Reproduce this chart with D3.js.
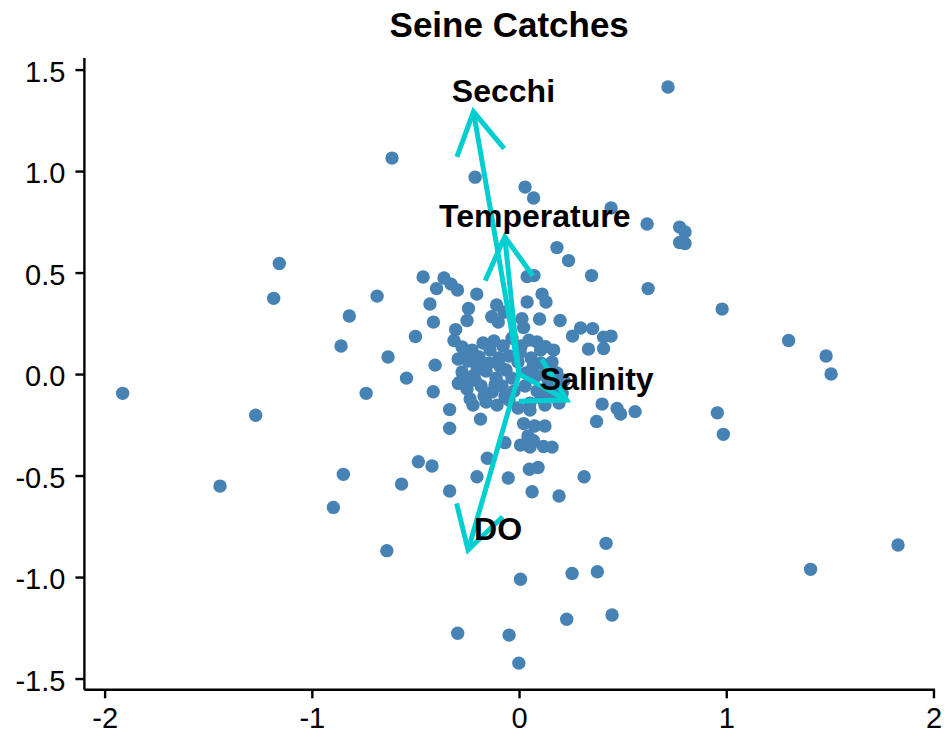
<!DOCTYPE html>
<html>
<head>
<meta charset="utf-8">
<script src="https://cdn.jsdelivr.net/npm/d3@7"></script>
<style>
  html, body { margin: 0; padding: 0; background: #fff; }
  svg { display: block; font-family: "Liberation Sans", Arial, sans-serif; }
</style>
</head>
<body>
<svg id="chart" width="945" height="734"></svg>
<script>
// Site scores on the first two ordination axes
const pc1 = [
  0.719, -0.613, -0.212, 0.029, 0.070, 0.444, 0.618, 0.775, 0.801, 0.775,
  0.801, 0.183, 0.239, 0.350, 0.623, 0.980, 1.301, 1.482, 1.506, -1.157,
  -1.184, -0.819, -0.685, -0.859, -0.632, -0.738, -1.913, -1.271, -1.443, -0.848,
  -0.896, -0.567, -0.638, -0.486, -0.420, -0.335, 0.957, 0.986, 0.420, 1.829,
  1.407, 0.378, 0.256, 0.007, 0.449, 0.230, -0.296, -0.048, -0.001, 0.193,
  0.314, 0.063, -0.052, -0.203, -0.153, -0.068, 0.050, 0.092, -0.186, -0.335,
  -0.335, -0.236, -0.222, -0.414, -0.543, -0.405, -0.500, -0.463, -0.362, -0.328,
  -0.297, -0.398, -0.204, -0.430, -0.244, -0.413, -0.251, -0.306, -0.314, -0.108,
  -0.132, -0.100, 0.039, 0.072, 0.111, 0.130, 0.039, 0.198, 0.099, 0.014,
  0.022, 0.297, 0.355, 0.258, 0.408, 0.444, 0.335, 0.408, 0.167, 0.087,
  0.104, 0.128, 0.401, 0.473, 0.490, 0.560, 0.374, 0.053, 0.193, 0.022,
  0.075, 0.125, 0.043, 0.070, 0.007, 0.053, 0.118, 0.159, -0.293, -0.212,
  -0.072,
  -0.275, -0.227, -0.174, -0.121, -0.077, -0.034, 0.010, 0.048,
  -0.294, -0.246, -0.193, -0.145, -0.097, -0.048, -0.005, 0.058, 0.106,
  -0.275, -0.217, -0.159, -0.111, -0.063, 0.034, 0.082, 0.130, 0.183,
  -0.251, -0.183, -0.130, -0.082, -0.024, 0.029, 0.087, 0.145, 0.208,
  -0.159, -0.106, -0.048, -0.005, 0.106, 0.159,
  -0.256, -0.203, -0.140, -0.092, -0.034, 0.005, 0.068, 0.140, 0.179,
  -0.236, -0.169, -0.068, 0.053, 0.125, -0.116, -0.285, 0.159, 0.217
];
const pc2 = [
  1.414, 1.064, 0.970, 0.921, 0.867, 0.818, 0.739, 0.724, 0.700, 0.648,
  0.643, 0.623, 0.559, 0.485, 0.421, 0.320, 0.165, 0.089, 0.000, 0.545,
  0.373, 0.286, 0.384, 0.138, 0.084, -0.095, -0.095, -0.203, -0.552, -0.494,
  -0.657, -0.542, -0.870, -0.432, -0.453, -0.576, -0.191, -0.297, -0.834, -0.842,
  -0.962, -0.974, -0.982, -1.011, -1.187, -1.208, -1.277, -1.286, -1.424, -0.601,
  -0.506, -0.580, -0.512, -0.506, -0.415, -0.338, -0.469, -0.460, -0.222, -0.267,
  -0.175, -0.123, -0.153, -0.087, -0.020, 0.044, 0.185, 0.478, 0.473, 0.443,
  0.414, 0.421, 0.394, 0.345, 0.323, 0.256, 0.264, 0.219, 0.165, 0.340,
  0.282, 0.256, 0.480, 0.485, 0.394, 0.355, 0.355, 0.264, 0.271, 0.273,
  0.229, 0.227, 0.224, 0.187, 0.182, 0.187, 0.123, 0.126, 0.118, 0.158,
  0.118, 0.135, -0.148, -0.170, -0.197, -0.185, -0.234, -0.177, -0.143, -0.244,
  -0.256, -0.256, -0.305, -0.328, -0.350, -0.360, -0.357, -0.360, -0.046, -0.030,
  0.305,
  0.133, 0.118, 0.153, 0.163, 0.138, 0.177, 0.138, 0.167,
  0.074, 0.064, 0.084, 0.054, 0.079, 0.089, 0.059, 0.079, 0.054,
  0.010, -0.005, 0.015, -0.020, 0.020, 0.005, -0.010, 0.015, 0.005,
  -0.074, -0.059, -0.089, -0.059, -0.084, -0.059, -0.084, -0.069, -0.094,
  -0.138, -0.153, -0.128, -0.167, -0.118, -0.108,
  0.103, 0.039, 0.118, 0.039, -0.020, 0.108, 0.039, -0.030, -0.059,
  -0.034, -0.108, -0.108, -0.143, -0.153, -0.054, -0.039, 0.059, -0.030
];

// Environmental variable vectors fitted onto the ordination
const envNames = ["Secchi", "Temperature", "Salinity", "DO"];
const envPC1 = [-0.220, -0.069, 0.230, -0.246];
const envPC2 = [1.292, 0.676, -0.128, -0.867];

// Axis ticks
const xTicks = [-2, -1, 0, 1, 2];
const yTicks = [-1.5, -1.0, -0.5, 0.0, 0.5, 1.0, 1.5];

const titleText = "Seine Catches";

// ---- layout ----
const svg = d3.select("#chart");
const panel = { left: 83.9, right: 934.5, top: 57.4, bottom: 689.3 };

const x = d3.scaleLinear().domain([-2.1, 2.005]).range([panel.left, panel.right]);
const y = d3.scaleLinear().domain([-1.553, 1.56]).range([panel.bottom, panel.top]);

const axisStroke = 2.4;
const tickFont = 29;

// x axis
const gx = svg.append("g")
  .attr("transform", `translate(0,${panel.bottom})`)
  .call(d3.axisBottom(x).tickValues(xTicks).tickSize(9).tickSizeOuter(0)
    .tickPadding(9).tickFormat(d => String(d)));

// y axis
const gy = svg.append("g")
  .attr("transform", `translate(${panel.left},0)`)
  .call(d3.axisLeft(y).tickValues(yTicks).tickSize(8.5).tickSizeOuter(0)
    .tickPadding(10).tickFormat(d => d.toFixed(1)));

[gx, gy].forEach(g => {
  g.select(".domain").attr("stroke", "#000").attr("stroke-width", axisStroke);
  g.selectAll(".tick line").attr("stroke", "#000").attr("stroke-width", axisStroke);
  g.selectAll(".tick text")
    .attr("fill", "#000")
    .style("font-size", tickFont + "px")
    .style("font-family", "'Liberation Sans', Arial, sans-serif");
});
gy.selectAll(".tick text").attr("dy", "0.40em");

// site points
const sites = pc1.map((v, i) => ({ a: v, b: pc2[i] }));
svg.append("g")
  .selectAll("circle")
  .data(sites)
  .join("circle")
  .attr("cx", d => x(d.a))
  .attr("cy", d => y(d.b))
  .attr("r", 6.7)
  .attr("fill", "#4682B4");

// environmental arrows with open heads
const env = envNames.map((n, i) => ({ name: n, a: envPC1[i], b: envPC2[i] }));
const headLen = 48;
const headAngle = Math.PI / 6;
const arrowColor = "#00CED1";

const ag = svg.append("g")
  .attr("fill", "none")
  .attr("stroke", arrowColor)
  .attr("stroke-width", 5)
  .attr("stroke-linejoin", "miter")
  .attr("stroke-miterlimit", 10);

env.forEach(d => {
  const x0 = x(0), y0 = y(0);
  const x1 = x(d.a), y1 = y(d.b);
  const ang = Math.atan2(y1 - y0, x1 - x0);
  const b1 = [x1 - headLen * Math.cos(ang - headAngle), y1 - headLen * Math.sin(ang - headAngle)];
  const b2 = [x1 - headLen * Math.cos(ang + headAngle), y1 - headLen * Math.sin(ang + headAngle)];
  ag.append("path").attr("d", `M${x0},${y0}L${x1},${y1}`);
  ag.append("path").attr("d", `M${b1[0]},${b1[1]}L${x1},${y1}L${b2[0]},${b2[1]}`);
});

// arrow labels, nudged right and up from each tip
svg.append("g")
  .selectAll("text")
  .data(env)
  .join("text")
  .attr("x", d => x(d.a) + 30)
  .attr("y", d => y(d.b) - 10)
  .attr("text-anchor", "middle")
  .style("font-size", "32px")
  .style("font-weight", "bold")
  .attr("fill", "#000")
  .text(d => d.name);

// title
svg.append("text")
  .attr("x", (panel.left + panel.right) / 2)
  .attr("y", 37)
  .attr("text-anchor", "middle")
  .style("font-size", "35px")
  .style("font-weight", "bold")
  .attr("fill", "#000")
  .text(titleText);
</script>
</body>
</html>
